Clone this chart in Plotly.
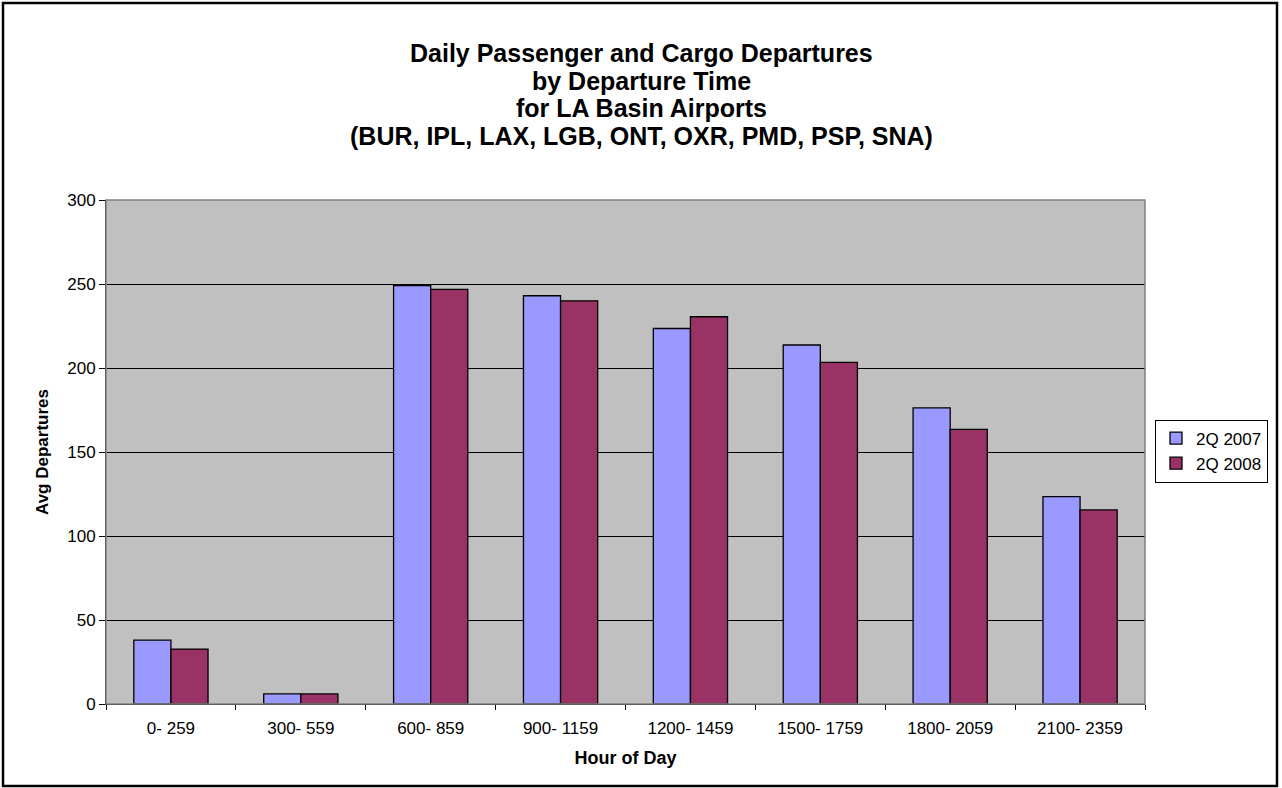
import plotly.graph_objects as go

# Datos
hours = ["0- 259", "300- 559", "600- 859", "900- 1159", "1200- 1459",
         "1500- 1759", "1800- 2059", "2100- 2359"]
dep_2007 = [38, 6, 249, 243, 223.5, 213.7, 176.3, 123.4]
dep_2008 = [32.7, 6, 246.8, 240, 230.5, 203.3, 163.5, 115.5]

title_lines = ["Daily Passenger and Cargo Departures", "by Departure Time",
               "for LA Basin Airports", "(BUR, IPL, LAX, LGB, ONT, OXR, PMD, PSP, SNA)"]

W, H = 1282, 788
L, R, T, B = 106, 137, 200, 84
pw, ph = W - L - R, H - T - B


def py(v):
    # pixel desde arriba -> coordenada paper
    return (H - B - v) / ph


def px(v):
    return (v - L) / pw


fig = go.Figure()
fig.add_trace(go.Bar(x=hours, y=dep_2007, name="2Q 2007",
                     marker=dict(color="#9999FF", line=dict(color="#000000", width=1.3))))
fig.add_trace(go.Bar(x=hours, y=dep_2008, name="2Q 2008",
                     marker=dict(color="#993366", line=dict(color="#000000", width=1.3))))

fig.update_layout(
    width=W, height=H,
    margin=dict(l=L, r=R, t=T, b=B, autoexpand=False),
    paper_bgcolor="white",
    plot_bgcolor="#C0C0C0",
    font=dict(family="Liberation Sans, Arial, sans-serif", size=17, color="#000000"),
    barmode="group",
    bargap=0.4286,
    bargroupgap=0,
    legend=dict(
        x=px(1155), xanchor="left", y=py(451), yanchor="middle",
        bordercolor="#000000", borderwidth=1, bgcolor="white",
        font=dict(size=17), tracegroupgap=0, itemwidth=30,
    ),
    showlegend=True,
)

for i, line in enumerate(title_lines):
    fig.add_annotation(text="<b>" + line + "</b>", xref="paper", yref="paper",
                       x=px(W / 2), y=py(53 + i * 27.7),
                       xanchor="center", yanchor="middle",
                       showarrow=False, font=dict(size=25))

fig.update_xaxes(
    title=dict(text="<b>Hour of Day</b>", font=dict(size=18), standoff=13),
    tickson="boundaries", ticks="outside", ticklen=5, tickcolor="#000000",
    ticklabelstandoff=9,
    showline=True, linecolor="#000000", linewidth=1, mirror=False,
    showgrid=False, tickfont=dict(size=17),
)
fig.update_yaxes(
    title=dict(text="<b>Avg Departures</b>", font=dict(size=17), standoff=14),
    range=[0, 300], dtick=50, ticks="outside", ticklen=6, tickcolor="#000000",
    showline=True, linecolor="#000000", linewidth=1,
    showgrid=True, gridcolor="#000000", gridwidth=1,
    zeroline=False, tickfont=dict(size=17),
)

# borde gris del area de trazado (arriba y derecha)
fig.add_shape(type="rect", xref="paper", yref="paper", x0=0, x1=1, y0=0, y1=1,
              line=dict(color="#808080", width=1.5), layer="above")
# marco exterior del grafico
fig.add_shape(type="rect", xref="paper", yref="paper",
              x0=px(3), x1=px(1277), y0=py(786), y1=py(3),
              line=dict(color="#000000", width=2.5))

fig.write_html("out.html", config={"displayModeBar": False},
               post_script="document.body.style.margin='0';")
